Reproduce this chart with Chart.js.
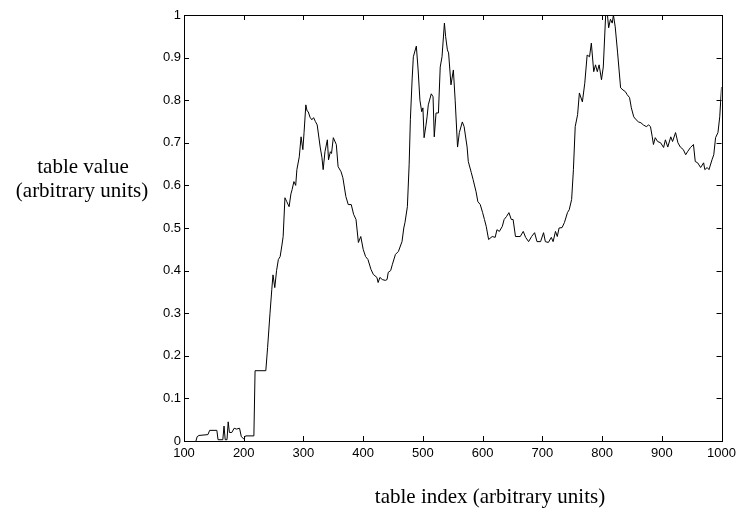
<!DOCTYPE html>
<html lang="en">
<head>
    <meta charset="UTF-8">
    <title>Table Value vs Table Index</title>
    <script src="https://cdn.jsdelivr.net/npm/chart.js@4.4.1/dist/chart.umd.min.js"></script>
    <style>
        body { margin: 0; background: #ffffff; }
        #wrap { width: 741px; height: 516px; }
    </style>
</head>
<body>
    <div id="wrap">
        <canvas id="tableChart" width="741" height="516"></canvas>
    </div>

    <script>
        // Table index (x) and table value (y)
        const tableIndex = [
            120, 122, 125, 140, 143, 155, 157, 165, 167, 169, 172, 174, 176, 180, 184, 188, 193, 196, 200, 203,
            217, 219, 237, 240, 244, 247, 249, 252, 255, 258, 261, 264, 266, 269, 272, 276, 279, 281, 284, 287,
            289, 293, 296, 299, 301, 304, 306, 308, 311, 314, 317, 320, 323, 328, 331, 333, 336, 340, 342, 345,
            347, 350, 355, 358, 363, 366, 371, 375, 380, 384, 388, 392, 396, 400, 404, 408, 413, 417, 423, 425,
            428, 432, 437, 440, 442, 446, 449, 454, 459, 465, 468, 470, 474, 477, 479, 482, 484, 489, 492, 495,
            498, 500, 502, 505, 507, 509, 514, 517, 519, 522, 526, 529, 532, 536, 538, 541, 543, 547, 551, 554,
            558, 561, 566, 569, 574, 576, 581, 584, 589, 592, 596, 600, 603, 606, 610, 616, 621, 624, 628, 633,
            636, 640, 644, 648, 651, 655, 663, 668, 672, 677, 682, 687, 691, 697, 702, 705, 710, 715, 718, 722,
            725, 728, 733, 737, 742, 745, 749, 752, 755, 759, 762, 767, 771, 775, 779, 782, 786, 789, 792, 795,
            799, 802, 806, 809, 811, 814, 817, 819, 822, 826, 831, 835, 839, 842, 846, 849, 853, 857, 861, 865,
            869, 874, 878, 881, 884, 886, 889, 893, 898, 903, 906, 910, 915, 918, 923, 927, 931, 936, 940, 943,
            948, 953, 956, 960, 965, 970, 972, 976, 979, 984, 987, 990, 994, 997, 1000
        ];
        const tableValue = [
            0, 0.01, 0.013, 0.015, 0.025, 0.025, 0.003, 0.003, 0.035, 0.003, 0.003, 0.045, 0.02, 0.02, 0.03, 0.028, 0.03, 0.01, 0.005, 0.012,
            0.012, 0.165, 0.165, 0.22, 0.30, 0.356, 0.39, 0.36, 0.40, 0.426, 0.433, 0.46, 0.48, 0.571, 0.562, 0.55, 0.58, 0.59, 0.609, 0.60,
            0.637, 0.667, 0.714, 0.684, 0.724, 0.789, 0.775, 0.773, 0.76, 0.754, 0.759, 0.75, 0.742, 0.69, 0.665, 0.637, 0.679, 0.707, 0.66, 0.679,
            0.675, 0.712, 0.696, 0.644, 0.632, 0.618, 0.574, 0.555, 0.555, 0.532, 0.52, 0.466, 0.48, 0.45, 0.433, 0.426, 0.403, 0.391, 0.384, 0.372,
            0.384, 0.379, 0.377, 0.379, 0.396, 0.40, 0.415, 0.438, 0.445, 0.468, 0.50, 0.513, 0.55, 0.65, 0.754, 0.85, 0.902, 0.927, 0.871, 0.80,
            0.773, 0.782, 0.712, 0.74, 0.761, 0.789, 0.815, 0.808, 0.714, 0.77, 0.77, 0.878, 0.902, 0.981, 0.95, 0.918, 0.911, 0.836, 0.871, 0.80,
            0.69, 0.724, 0.749, 0.738, 0.69, 0.656, 0.63, 0.614, 0.585, 0.562, 0.555, 0.536, 0.52, 0.504, 0.473, 0.48, 0.478, 0.496, 0.492, 0.504,
            0.52, 0.527, 0.536, 0.52, 0.52, 0.48, 0.48, 0.492, 0.478, 0.468, 0.48, 0.489, 0.468, 0.468, 0.489, 0.468, 0.466, 0.478, 0.468, 0.492,
            0.48, 0.50, 0.501, 0.513, 0.536, 0.543, 0.567, 0.637, 0.738, 0.766, 0.817, 0.796, 0.84, 0.906, 0.902, 0.934, 0.867, 0.883, 0.867, 0.883,
            0.848, 0.878, 1.0, 1.0, 0.97, 0.99, 0.981, 1.0, 0.972, 0.911, 0.829, 0.824, 0.82, 0.813, 0.806, 0.782, 0.761, 0.754, 0.749, 0.747,
            0.742, 0.738, 0.742, 0.738, 0.714, 0.696, 0.712, 0.703, 0.70, 0.689, 0.707, 0.69, 0.714, 0.703, 0.724, 0.70, 0.69, 0.684, 0.672, 0.679,
            0.689, 0.696, 0.656, 0.653, 0.642, 0.653, 0.637, 0.642, 0.637, 0.66, 0.672, 0.712, 0.724, 0.761, 0.831
        ];
        const xTickStep = 100;
        const yTickStep = 0.1;

        const xLabel = 'table index (arbitrary units)';
        const yLabel = ['table value', '(arbitrary units)'];

        const points = tableIndex.map((x, i) => ({ x: x, y: tableValue[i] }));

        // box frame, inward ticks and the axis labels (matlab look)
        const framePlugin = {
            id: 'frame',
            afterDraw(chart) {
                const ctx = chart.ctx;
                const a = chart.chartArea;
                const xs = chart.scales.x;
                const ys = chart.scales.y;
                const tick = 5;
                ctx.save();
                ctx.strokeStyle = '#000';
                ctx.lineWidth = 1;
                ctx.strokeRect(Math.round(a.left) + 0.5, Math.round(a.top) + 0.5,
                    Math.round(a.right - a.left), Math.round(a.bottom - a.top));
                ctx.beginPath();
                xs.ticks.forEach(t => {
                    const px = Math.round(xs.getPixelForValue(t.value)) + 0.5;
                    ctx.moveTo(px, a.bottom); ctx.lineTo(px, a.bottom - tick);
                    ctx.moveTo(px, a.top); ctx.lineTo(px, a.top + tick);
                });
                ys.ticks.forEach(t => {
                    const py = Math.round(ys.getPixelForValue(t.value)) + 0.5;
                    ctx.moveTo(a.left, py); ctx.lineTo(a.left + tick, py);
                    ctx.moveTo(a.right, py); ctx.lineTo(a.right - tick, py);
                });
                ctx.stroke();

                ctx.fillStyle = '#000';
                ctx.font = '21px "Liberation Serif", "Times New Roman", serif';
                ctx.textAlign = 'center';
                ctx.textBaseline = 'alphabetic';
                ctx.fillText(yLabel[0], 83, 173);
                ctx.fillText(yLabel[1], 82, 197);
                ctx.fillText(xLabel, 490, 503);
                ctx.restore();
            }
        };

        const ctx = document.getElementById('tableChart').getContext('2d');
        new Chart(ctx, {
            type: 'line',
            data: {
                datasets: [{
                    data: points,
                    borderColor: '#000',
                    borderWidth: 1,
                    pointRadius: 0,
                    tension: 0,
                    fill: false
                }]
            },
            options: {
                responsive: false,
                animation: false,
                layout: { padding: { left: 0, right: 19, top: 15, bottom: 0 } },
                plugins: {
                    legend: { display: false },
                    tooltip: { enabled: false }
                },
                scales: {
                    x: {
                        type: 'linear',
                        min: 100,
                        max: 1000,
                        grid: { display: false, drawTicks: false },
                        border: { display: false },
                        ticks: {
                            stepSize: xTickStep,
                            color: '#000',
                            padding: 5,
                            maxRotation: 0,
                            font: { family: '"Liberation Sans", Arial, sans-serif', size: 13 },
                            callback: v => String(v)
                        },
                        afterFit(scale) { scale.height = 75; }
                    },
                    y: {
                        min: 0,
                        max: 1,
                        grid: { display: false, drawTicks: false },
                        border: { display: false },
                        ticks: {
                            stepSize: yTickStep,
                            color: '#000',
                            padding: 3,
                            font: { family: '"Liberation Sans", Arial, sans-serif', size: 13 },
                            callback: v => String(Math.round(v * 10) / 10)
                        },
                        afterFit(scale) { scale.width = 184; }
                    }
                }
            },
            plugins: [framePlugin]
        });
    </script>
</body>
</html>
